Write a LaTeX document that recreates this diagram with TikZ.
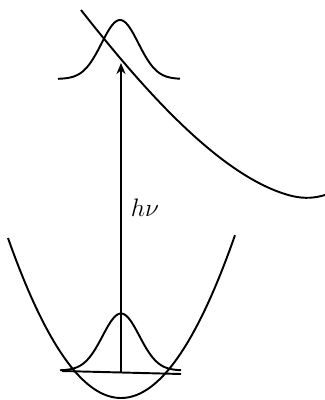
\documentclass[tikz,border=0pt]{standalone}
\usepackage{amsmath}
\usetikzlibrary{arrows.meta}

\begin{document}
\begin{tikzpicture}[
    x=0.02cm, y=-0.02cm,
    curve/.style={line width=1.1pt},
    arr/.style={-{Stealth[length=2.2mm, width=1.8mm]}, line width=1.1pt},
    lbl/.style={font=\Large},
]
\useasboundingbox (0,0) rectangle (325,400);

% ========== LOWER STATE: parabola + level + wave ==========
\draw[curve] plot[domain=8:235, samples=80] (\x, {398-0.01253*(\x-121)^2});
\coordinate (lvlL) at (62,371);
\coordinate (lvlR) at (181,374);
\draw[curve] (lvlL) -- (lvlR);
\draw[curve] plot[domain=60:181, samples=80] (\x, {370.5-57*exp(-((\x-121)/26)^2)});

% ========== UPPER STATE: dissociative curve + wave ==========
\draw[curve] (81,10) .. controls (140,85) and (220,178) .. (292,196)
    .. controls (305,199) and (315,198) .. (325,195);
\draw[curve] plot[domain=58:180, samples=80] (\x, {79-59*exp(-((\x-120)/26)^2)});

% ========== TRANSITION ==========
\coordinate (lo) at (121,373);
\coordinate (up) at (121,63);
\draw[arr] (lo) -- (up);
\node[lbl] at (145,208) (hnu) {$h\nu$};

\end{tikzpicture}
\end{document}
